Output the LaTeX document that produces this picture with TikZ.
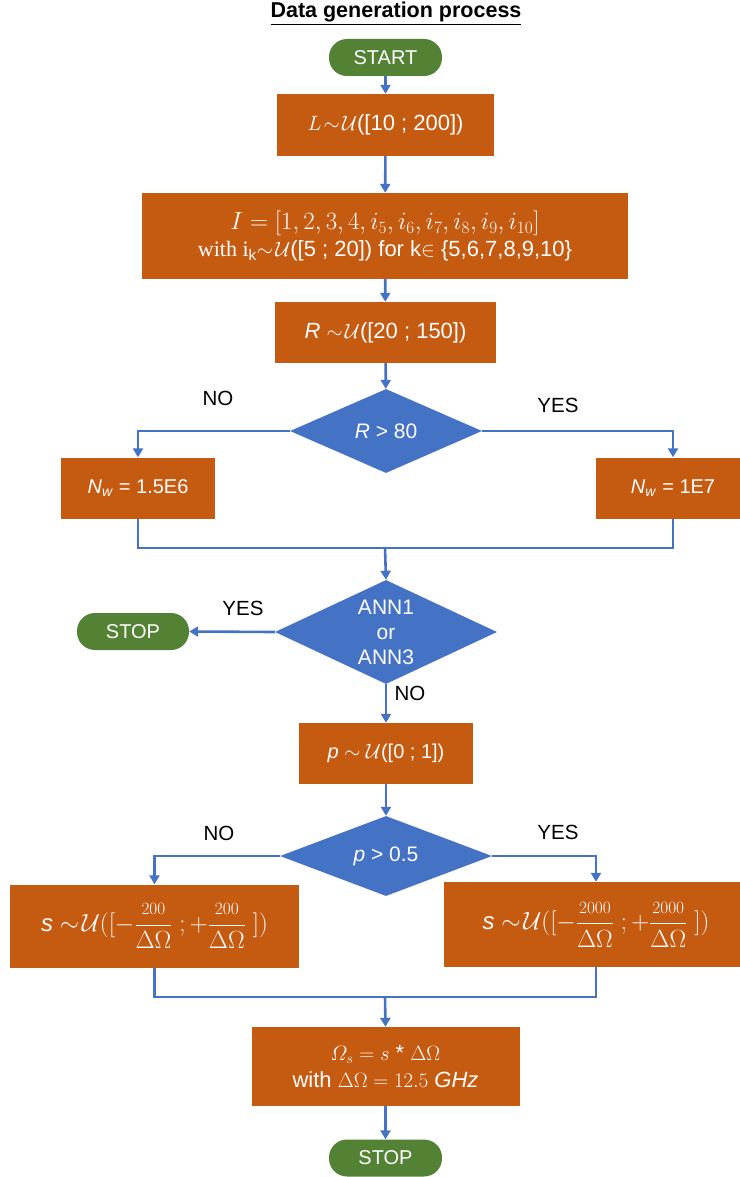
\documentclass[tikz,border=0pt]{standalone}
\usepackage{amsmath}
\usepackage{fontspec}
\setmainfont{Liberation Sans}
\newfontfamily\cambria{Liberation Serif}
\usepackage{tikz}
\usetikzlibrary{arrows.meta, positioning, shapes.geometric, calc}
\definecolor{procorange}{RGB}{197,90,17}
\definecolor{decblue}{RGB}{68,114,196}
\definecolor{termgreen}{RGB}{84,130,53}

\begin{document}
\begin{tikzpicture}[x=1pt, y=-1pt,
      proc/.style={fill=procorange, text=white, inner sep=0pt, align=center,
                   font=\fontsize{22}{27}\selectfont},
      decide/.style={diamond, aspect=2, fill=decblue, text=white, inner sep=0pt,
                     align=center, font=\fontsize{21}{25}\selectfont},
      term/.style={fill=termgreen, text=white, rounded corners=18pt,
                   minimum width=113pt, minimum height=37pt, inner sep=0pt,
                   font=\fontsize{20}{24}\selectfont},
      lbl/.style={font=\fontsize{20.5}{24}\selectfont},
      link/.style={draw=decblue, line width=2.6pt},
      >={Triangle[length=9pt,width=10pt]}]
    \useasboundingbox (0,0) rectangle (739,1177);
    \node[font=\bfseries\fontsize{21.5}{26}\selectfont] (title) at (396,14)
          {\underline{Data generation process}};
    \node[term] (start) at (385.5,57.5) {START};
    \node[proc, minimum width=217pt, minimum height=62pt] (lgen) at (385.5,125)
          {$L\!\sim\!\mathcal{U}$([10 ; 200])};
    \node[proc, minimum width=486pt, minimum height=86pt] (igen) at (385,236)
          {{\fontsize{25.5}{28}\selectfont$I=[1,2,3,4,i_5,i_6,i_7,i_8,i_9,i_{10}]$}\\
           {\cambria with i$_{\mathrm{k}}$}$\sim\!\mathcal{U}$([5 ; 20]) for k$\in$ \{5,6,7,8,9,10\}};
    \node[proc, minimum width=221pt, minimum height=61pt] (rgen) at (385.5,332.5)
          {\textit{R} $\sim\!\mathcal{U}$([20 ; 150])};
    \node[decide, minimum width=192pt, minimum height=84pt] (rtest) at (386,431)
          {\textit{R} > 80};
    \node[proc, minimum width=154pt, minimum height=61pt, font=\fontsize{20}{24}\selectfont]
          (nwlow) at (138,488) {\textit{N}\textsubscript{\textit{w}} = 1.5E6};
    \node[proc, minimum width=154pt, minimum height=61pt, font=\fontsize{20}{24}\selectfont]
          (nwhigh) at (673,488) {\textit{N}\textsubscript{\textit{w}} = 1E7};
    \coordinate (join1) at (385,548);
    \node[decide, minimum width=222pt, minimum height=104pt] (anntest) at (386,632)
          {ANN1\\or\\ANN3};
    \node[term, minimum width=112pt] (stopa) at (133,631.5) {STOP};
    \node[proc, minimum width=174pt, minimum height=61pt, font=\fontsize{20}{24}\selectfont]
          (pgen) at (386,753.5) {\textit{p} $\sim$ $\mathcal{U}$([0 ; 1])};
    \node[decide, minimum width=212pt, minimum height=80pt] (ptest) at (386,856)
          {\textit{p} > 0.5};
    \node[proc, minimum width=289pt, minimum height=83pt, font=\fontsize{24}{28}\selectfont]
          (slow) at (154.5,926)
          {\textit{s} $\sim\!\mathcal{U}([-\dfrac{\scriptstyle 200}{\Delta\Omega}\;;+\dfrac{\scriptstyle 200}{\Delta\Omega}\;])$};
    \node[proc, minimum width=304pt, minimum height=85pt, font=\fontsize{24}{28}\selectfont]
          (shigh) at (596,924.5)
          {\textit{s} $\sim\!\mathcal{U}([-\dfrac{\scriptstyle 2000}{\Delta\Omega}\;;+\dfrac{\scriptstyle 2000}{\Delta\Omega}\;])$};
    \coordinate (join2) at (385,997);
    \node[proc, minimum width=268pt, minimum height=79pt] (omega) at (385.5,1066.5)
          {$\varOmega_s = s$ * $\Delta\Omega$\\
           with $\Delta\Omega = 12.5\ \mathit{GHz}$};
    \node[term] (stopb) at (385.5,1158) {STOP};
    % Branch labels
    \node[lbl] (nolbla) at (218,398) {NO};
    \node[lbl] (yeslbla) at (558,405) {YES};
    \node[lbl] (yeslblb) at (243,608) {YES};
    \node[lbl] (nolblb) at (410,693) {NO};
    \node[lbl] (nolblc) at (219,833) {NO};
    \node[lbl] (yeslblc) at (558,832) {YES};
    % Main flow
    \draw[link, ->] (start) -- (lgen);
    \draw[link, ->] (lgen) -- (igen);
    \draw[link, ->] (igen) -- (rgen);
    \draw[link, ->] (rgen) -- (rtest);
    \draw[link, ->] (rtest.west) -| (nwlow.north);
    \draw[link, ->] (rtest.east) -| (nwhigh.north);
    \draw[link] (nwlow.south) |- (join1);
    \draw[link] (nwhigh.south) |- (join1);
    \draw[link, ->] (join1) -- (anntest.north);
    \draw[link, ->] (anntest.west) -- (stopa.east);
    \draw[link, ->] (anntest.south) -- (pgen.north);
    \draw[link, ->] (pgen) -- (ptest);
    \draw[link, ->] (ptest.west) -| (slow.north);
    \draw[link, ->] (ptest.east) -| (shigh.north);
    \draw[link] (slow.south) |- (join2);
    \draw[link] (shigh.south) |- (join2);
    \draw[link, ->] (join2) -- (omega.north);
    \draw[link, ->] (omega) -- (stopb);
  \end{tikzpicture}
\end{document}
